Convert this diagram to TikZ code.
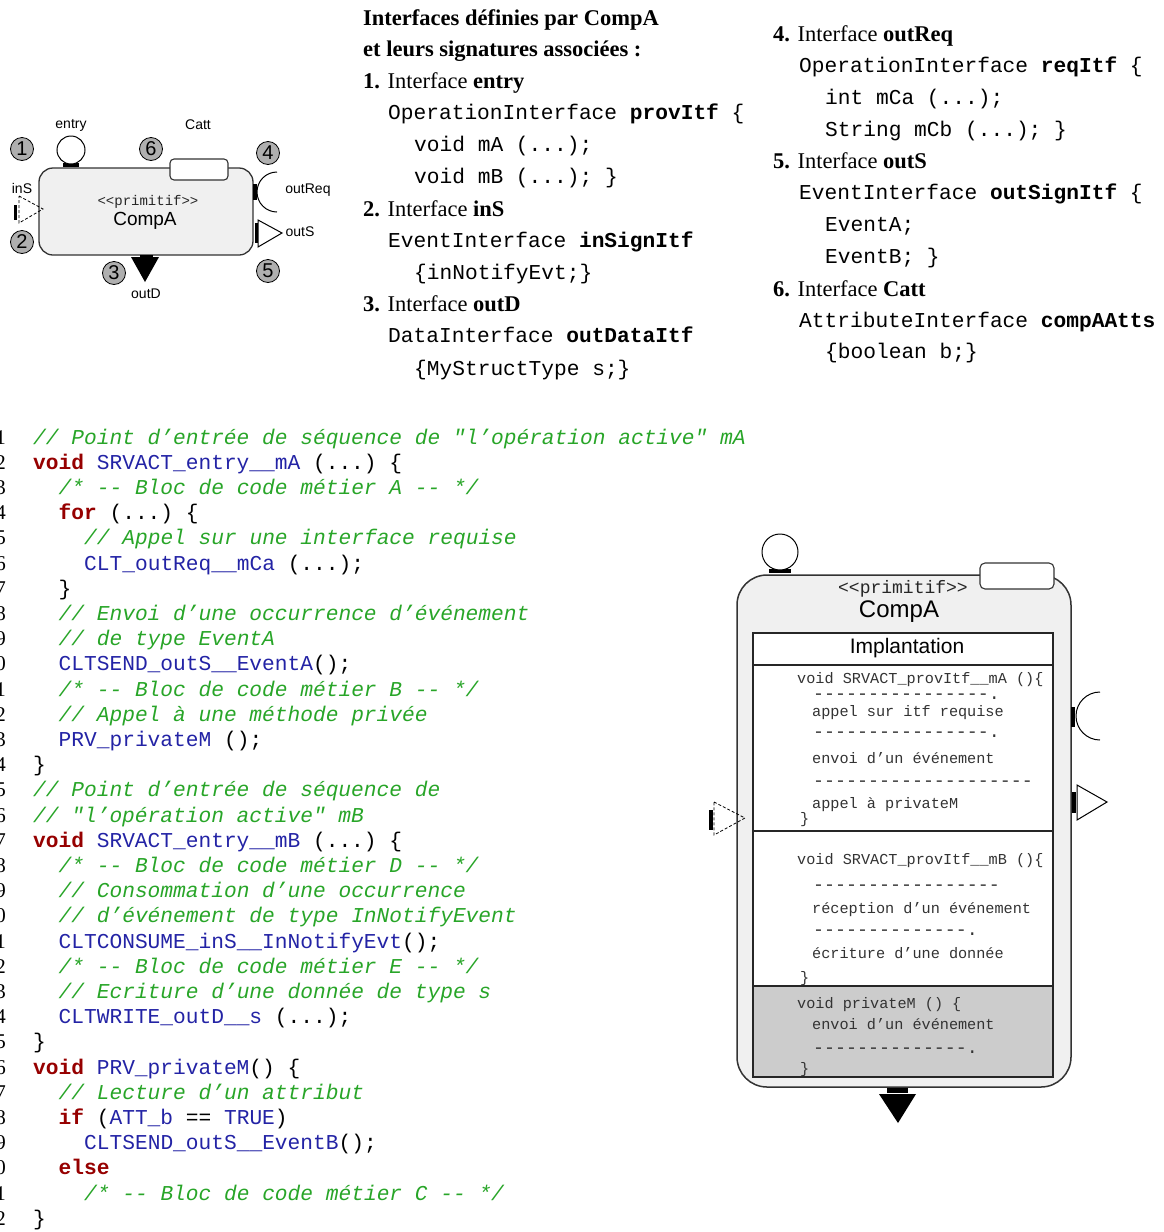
\documentclass[tikz,border=0pt]{standalone}
\usepackage{fontspec}
\setmainfont{Liberation Serif}
\setsansfont{Liberation Sans}
\setmonofont{Liberation Mono}
\usepackage{xcolor}
\definecolor{kwred}{RGB}{150,0,0}
\definecolor{idblue}{RGB}{35,35,165}
\definecolor{cmgreen}{RGB}{40,165,40}
\definecolor{compfill}{RGB}{240,240,240}
\definecolor{privfill}{RGB}{204,204,204}
\definecolor{numfill}{RGB}{175,175,175}
\newcommand{\kw}[1]{\textcolor{kwred}{\bfseries #1}}
\newcommand{\idf}[1]{\textcolor{idblue}{#1}}
\newcommand{\cmt}[1]{\textcolor{cmgreen}{\itshape #1}}
\tikzset{
    itf title/.style={anchor=base west, inner sep=0pt, font=\fontsize{22.5}{27}\selectfont},
    itf sig/.style={anchor=base west, inner sep=0pt, font=\ttfamily\fontsize{21.2}{25}\selectfont},
    code line/.style={anchor=base west, inner sep=0pt, font=\ttfamily\fontsize{21.2}{25}\selectfont},
    code num/.style={anchor=base east, inner sep=0pt, font=\fontsize{21}{25}\selectfont},
    comp body/.style={draw=black!80, fill=compfill, line width=1.3pt},
    catt box/.style={draw=black!80, fill=white, line width=1.1pt},
    stereo/.style={inner sep=0pt, text=black!85},
    comp name/.style={inner sep=0pt},
    port circle/.style={circle, draw=black, fill=white, line width=1pt, inner sep=0pt},
    port bar/.style={fill=black},
    port line/.style={draw=black, line width=1pt},
    port dashed/.style={draw=black, line width=0.8pt, densely dashed},
    port label/.style={inner sep=0pt, font=\sffamily\fontsize{14}{16}\selectfont},
    port num/.style={circle, draw=black, fill=numfill, minimum size=23pt, inner sep=0pt,
        line width=0.8pt, font=\sffamily\fontsize{20}{20}\selectfont},
    impl frame/.style={draw=black!85, line width=1.2pt},
    impl text/.style={anchor=base west, inner sep=0pt, text=black!80,
        font=\ttfamily\fontsize{15.2}{18}\selectfont},
    impl dash/.style={impl text, font=\ttfamily\fontsize{18.3}{20}\selectfont,
        text height=0.4em, text depth=0pt}
}
\begin{document}
\begin{tikzpicture}[x=1pt, y=-1pt]
\useasboundingbox (0,0) rectangle (1163,1232);
\clip (0,0) rectangle (1163,1232);

% CompA, small view
\node[comp body, rounded corners=14pt, minimum width=214pt, minimum height=87pt] (compA) at (146,211.5) {};
\node[catt box, rounded corners=4pt, minimum width=58pt, minimum height=21pt] (cattA) at (199,169.5) {};
\node[stereo, font=\ttfamily\fontsize{14}{14}\selectfont] (stA) at (148,202) {<<primitif>>};
\node[comp name, font=\sffamily\fontsize{19}{19}\selectfont] (nameA) at (145,221) {CompA};
\fill[port bar] (63,163) rectangle (79,166.5);
\node[port circle, minimum size=28pt] (entryA) at (71,150) {};
\fill[port bar] (253,184) rectangle (257,200);
\draw[port line] (277,172) arc[start angle=270, end angle=90, radius=20];
\fill[port bar] (255,223) rectangle (259,243);
\draw[port line, fill=white] (258,220) -- (282,233) -- (258,247) -- cycle;
\fill[port bar] (14,205) rectangle (17,220);
\draw[port dashed] (19,196) -- (43,209) -- (19,223) -- cycle;
\fill[port bar] (140,255) rectangle (153,259);
\fill (131,257) -- (159,257) -- (145,282) -- cycle;
\node[port label] (lbEntryA) at (71,125) {entry};
\node[port label] (lbCattA) at (198,125) {Catt};
\node[port label] (lbInSA) at (22,188) {inS};
\node[port label] (lbReqA) at (308,190) {outReq};
\node[port label] (lbOutSA) at (300,232) {outS};
\node[port label] (lbOutDA) at (146,294) {outD};
\node[port num] (n1) at (22,149) {1};
\node[port num] (n6) at (151,149) {6};
\node[port num] (n4) at (268,153) {4};
\node[port num] (n2) at (22,242) {2};
\node[port num] (n3) at (114,273) {3};
\node[port num] (n5) at (268,271) {5};

% Interfaces, first column
\node[itf title] (hd1) at (363,25) {\bfseries Interfaces définies par CompA};
\node[itf title] (hd2) at (363,56) {\bfseries et leurs signatures associées :};
\node[itf title] (itf1) at (363,88) {\textbf{1.} Interface \textbf{entry}};
\node[itf sig] (sig1a) at (388,119) {OperationInterface \textbf{provItf} \{};
\node[itf sig] (sig1b) at (414,151) {void mA (...);};
\node[itf sig] (sig1c) at (414,183) {void mB (...); \}};
\node[itf title] (itf2) at (363,216) {\textbf{2.} Interface \textbf{inS}};
\node[itf sig] (sig2a) at (388,247) {EventInterface \textbf{inSignItf}};
\node[itf sig] (sig2b) at (414,279) {\{inNotifyEvt;\}};
\node[itf title] (itf3) at (363,311) {\textbf{3.} Interface \textbf{outD}};
\node[itf sig] (sig3a) at (388,342) {DataInterface \textbf{outDataItf}};
\node[itf sig] (sig3b) at (414,375) {\{MyStructType s;\}};

% Interfaces, second column
\node[itf title] (itf4) at (773,41) {\textbf{4.} Interface \textbf{outReq}};
\node[itf sig] (sig4a) at (799,72) {OperationInterface \textbf{reqItf} \{};
\node[itf sig] (sig4b) at (825,104) {int mCa (...);};
\node[itf sig] (sig4c) at (825,136) {String mCb (...); \}};
\node[itf title] (itf5) at (773,168) {\textbf{5.} Interface \textbf{outS}};
\node[itf sig] (sig5a) at (799,199) {EventInterface \textbf{outSignItf} \{};
\node[itf sig] (sig5b) at (825,231) {EventA;};
\node[itf sig] (sig5c) at (825,263) {EventB; \}};
\node[itf title] (itf6) at (773,296) {\textbf{6.} Interface \textbf{Catt}};
\node[itf sig] (sig6a) at (799,327) {AttributeInterface \textbf{compAAtts}};
\node[itf sig] (sig6b) at (825,358) {\{boolean b;\}};

% generated code listing
\foreach \lvl/\txt [count=\i] in {
    0/{\cmt{// Point d’entrée de séquence de "l’opération active" mA}},
    0/{\kw{void} \idf{SRVACT\_entry\_\_mA} (...) \{},
    1/{\cmt{/* -- Bloc de code métier A -- */}},
    1/{\kw{for} (...) \{},
    2/{\cmt{// Appel sur une interface requise}},
    2/{\idf{CLT\_outReq\_\_mCa} (...);},
    1/{\}},
    1/{\cmt{// Envoi d’une occurrence d’événement}},
    1/{\cmt{// de type EventA}},
    1/{\idf{CLTSEND\_outS\_\_EventA}();},
    1/{\cmt{/* -- Bloc de code métier B -- */}},
    1/{\cmt{// Appel à une méthode privée}},
    1/{\idf{PRV\_privateM} ();},
    0/{\}},
    0/{\cmt{// Point d’entrée de séquence de}},
    0/{\cmt{// "l’opération active" mB}},
    0/{\kw{void} \idf{SRVACT\_entry\_\_mB} (...) \{},
    1/{\cmt{/* -- Bloc de code métier D -- */}},
    1/{\cmt{// Consommation d’une occurrence}},
    1/{\cmt{// d’événement de type InNotifyEvent}},
    1/{\idf{CLTCONSUME\_inS\_\_InNotifyEvt}();},
    1/{\cmt{/* -- Bloc de code métier E -- */}},
    1/{\cmt{// Ecriture d’une donnée de type s}},
    1/{\idf{CLTWRITE\_outD\_\_s} (...);},
    0/{\}},
    0/{\kw{void} \idf{PRV\_privateM}() \{},
    1/{\cmt{// Lecture d’un attribut}},
    1/{\kw{if} (\idf{ATT\_b} == \idf{TRUE})},
    2/{\idf{CLTSEND\_outS\_\_EventB}();},
    1/{\kw{else}},
    2/{\cmt{/* -- Bloc de code métier C -- */}},
    0/{\}}}{
    \node[code num] (num\i) at (6,{444+25.2*(\i-1)}) {\i};
    \node[code line] (code\i) at ({33+25.5*\lvl},{444+25.2*(\i-1)}) {\txt};
}

% CompA, implementation view
\node[comp body, line width=1.5pt, rounded corners=30pt, minimum width=334pt, minimum height=512pt] (compB) at (904,831) {};
\node[catt box, rounded corners=5pt, minimum width=74pt, minimum height=26pt] (cattB) at (1017,576) {};
\fill[port bar] (769,569) rectangle (791,572.5);
\node[port circle, minimum size=36pt] (entryB) at (780,552) {};
\node[stereo, font=\ttfamily\fontsize{18}{18}\selectfont] (stB) at (903,589) {<<primitif>>};
\node[comp name, font=\sffamily\fontsize{24}{24}\selectfont] (nameB) at (899,612) {CompA};
\fill[white] (753,633) rectangle (1053,986);
\fill[privfill] (753,986) rectangle (1053,1077);
\draw[impl frame] (753,633) rectangle (1053,1077);
\draw[impl frame] (753,665) -- (1053,665);
\draw[impl frame] (753,831) -- (1053,831);
\draw[impl frame] (753,986) -- (1053,986);
\node[comp name, font=\sffamily\fontsize{21}{21}\selectfont] (implB) at (907,648) {Implantation};
\node[impl text] (mA1) at (797,683) {void SRVACT\_provItf\_\_mA ()\{};
\node[impl dash] (mA2) at (813,699) {----------------.};
\node[impl text] (mA3) at (812,716) {appel sur itf requise};
\node[impl dash] (mA4) at (813,737) {----------------.};
\node[impl text] (mA5) at (812,763) {envoi d’un événement};
\node[impl dash] (mA6) at (813,786) {--------------------};
\node[impl text] (mA7) at (812,808) {appel à privateM};
\node[impl text] (mA8) at (800,823) {\}};
\node[impl text] (mB1) at (797,864) {void SRVACT\_provItf\_\_mB ()\{};
\node[impl dash] (mB2) at (813,890) {-----------------};
\node[impl text] (mB3) at (812,913) {réception d’un événement};
\node[impl dash] (mB4) at (813,935) {--------------.};
\node[impl text] (mB5) at (812,958) {écriture d’une donnée};
\node[impl text] (mB6) at (800,982) {\}};
\node[impl text] (pM1) at (797,1008) {void privateM () \{};
\node[impl text] (pM2) at (812,1029) {envoi d’un événement};
\node[impl dash] (pM3) at (813,1053) {--------------.};
\node[impl text] (pM4) at (800,1073) {\}};
\fill[port bar] (1071,707) rectangle (1075,727);
\draw[port line] (1100,692) arc[start angle=270, end angle=90, radius=24];
\fill[port bar] (1072,792) rectangle (1076,813);
\draw[port line, fill=white] (1077,785) -- (1107,802) -- (1077,820) -- cycle;
\fill[port bar] (709,810) rectangle (713,830);
\draw[port dashed] (714,802) -- (745,818) -- (714,835) -- cycle;
\fill[port bar] (887,1088) rectangle (908,1093);
\fill (879,1094) -- (916,1094) -- (898,1123) -- cycle;
\end{tikzpicture}
\end{document}
